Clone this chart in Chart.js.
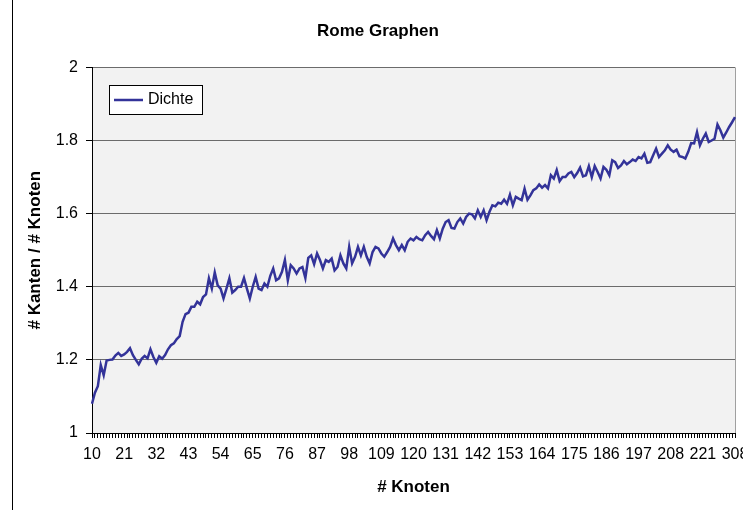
<!DOCTYPE html>
<html>
<head>
<meta charset="utf-8">
<title>Rome Graphen</title>
<script src="https://cdn.jsdelivr.net/npm/chart.js@4"></script>
<style>
  html, body { margin:0; padding:0; background:#fff; }
  canvas { display:block; }
</style>
</head>
<body>
<canvas id="rome-chart" width="743" height="510"></canvas>
<script>
/* ----------------------------------------------------------
   Daten: Knotenzahl (x) und Dichte = # Kanten / # Knoten (y)
   ---------------------------------------------------------- */
const knoten = [
   10, 11, 12, 13, 14, 15, 16, 17, 18, 19, 20, 21, 22, 23, 24, 25, 26, 27, 28, 29,
   30, 31, 32, 33, 34, 35, 36, 37, 38, 39, 40, 41, 42, 43, 44, 45, 46, 47, 48, 49,
   50, 51, 52, 53, 54, 55, 56, 57, 58, 59, 60, 61, 62, 63, 64, 65, 66, 67, 68, 69,
   70, 71, 72, 73, 74, 75, 76, 77, 78, 79, 80, 81, 82, 83, 84, 85, 86, 87, 88, 89,
   90, 91, 92, 93, 94, 95, 96, 97, 98, 99,100,101,102,103,104,105,106,107,108,109,
  110,111,112,113,114,115,116,117,118,119,120,121,122,123,124,125,126,127,128,129,
  130,131,132,133,134,135,136,137,138,139,140,141,142,143,144,145,146,147,148,149,
  150,151,152,153,154,155,156,157,158,159,160,161,162,163,164,165,166,167,168,169,
  170,171,172,173,174,175,176,177,178,179,180,181,182,183,184,185,186,187,188,189,
  190,191,192,193,194,195,196,197,198,199,200,201,202,203,204,205,206,207,208,
  209,210,211,212,213,214,215,216,218,219,221,222,224,226,229,232,236,241,248,257,
  270,308,
];

const dichte = [
  1.080, 1.110, 1.128, 1.186, 1.158, 1.198, 1.200, 1.201, 1.212, 1.219,
  1.211, 1.215, 1.222, 1.232, 1.213, 1.200, 1.188, 1.203, 1.211, 1.204,
  1.229, 1.208, 1.192, 1.210, 1.203, 1.213, 1.229, 1.240, 1.245, 1.257,
  1.265, 1.304, 1.325, 1.329, 1.345, 1.345, 1.359, 1.352, 1.372, 1.379,
  1.423, 1.395, 1.439, 1.404, 1.395, 1.368, 1.395, 1.423, 1.384, 1.391,
  1.400, 1.400, 1.424, 1.395, 1.368, 1.400, 1.427, 1.395, 1.391, 1.409,
  1.400, 1.430, 1.450, 1.418, 1.423, 1.441, 1.473, 1.418, 1.459, 1.450,
  1.436, 1.450, 1.454, 1.424, 1.479, 1.486, 1.462, 1.491, 1.473, 1.450,
  1.473, 1.468, 1.477, 1.445, 1.454, 1.486, 1.464, 1.450, 1.509, 1.464,
  1.482, 1.509, 1.486, 1.509, 1.482, 1.464, 1.495, 1.509, 1.505, 1.491,
  1.482, 1.495, 1.509, 1.532, 1.514, 1.500, 1.514, 1.500, 1.523, 1.532,
  1.527, 1.536, 1.530, 1.527, 1.541, 1.550, 1.539, 1.530, 1.555, 1.532,
  1.559, 1.577, 1.582, 1.561, 1.559, 1.577, 1.587, 1.573, 1.591, 1.600,
  1.598, 1.587, 1.609, 1.591, 1.609, 1.582, 1.605, 1.623, 1.620, 1.630,
  1.627, 1.638, 1.627, 1.652, 1.623, 1.646, 1.641, 1.637, 1.668, 1.638,
  1.650, 1.664, 1.669, 1.680, 1.671, 1.678, 1.669, 1.705, 1.696, 1.719,
  1.689, 1.700, 1.700, 1.710, 1.714, 1.700, 1.711, 1.726, 1.702, 1.705,
  1.730, 1.700, 1.730, 1.714, 1.696, 1.728, 1.720, 1.705, 1.746, 1.741,
  1.725, 1.732, 1.744, 1.735, 1.741, 1.748, 1.744, 1.755, 1.751, 1.764,
  1.739, 1.741, 1.760, 1.778, 1.755, 1.764, 1.773, 1.787, 1.775, 1.769,
  1.775, 1.757, 1.755, 1.751, 1.769, 1.793, 1.792, 1.823, 1.787, 1.805,
  1.819, 1.796, 1.800, 1.805, 1.844, 1.828, 1.808, 1.822, 1.837, 1.850,
  1.864,
];

const yTicks = [1, 1.2, 1.4, 1.6, 1.8, 2];
const LABEL_EVERY = 11;   // jede 11. Kategorie beschriften

const FONT = "'Liberation Sans', Arial, sans-serif";
Chart.defaults.font.family = FONT;
Chart.defaults.color = '#000';

/* ----------------------------------------------------------
   Hintergrund, Rahmen, Legendenkasten
   ---------------------------------------------------------- */
const chartFrame = {
  id: 'chartFrame',
  beforeDraw(chart) {
    const { ctx, chartArea: a } = chart;
    ctx.save();
    ctx.fillStyle = '#fff';
    ctx.fillRect(0, 0, chart.width, chart.height);
    ctx.fillStyle = '#f2f2f2';
    ctx.fillRect(a.left, a.top, a.right - a.left, a.bottom - a.top);
    ctx.strokeStyle = '#000';
    ctx.lineWidth = 1;
    ctx.beginPath(); ctx.moveTo(12.5, 0); ctx.lineTo(12.5, chart.height); ctx.stroke();
    ctx.strokeStyle = '#a0a0a0';
    ctx.beginPath(); ctx.moveTo(a.right + 0.5, a.top); ctx.lineTo(a.right + 0.5, a.bottom); ctx.stroke();
    ctx.restore();
  },
};

const boxLegend = {
  id: 'boxLegend',
  afterDraw(chart) {
    const { ctx, chartArea: a } = chart;
    const ds = chart.data.datasets[0];
    const x = Math.round(a.left) + 17, y = Math.round(a.top) + 18, w = 93, h = 29;
    ctx.save();
    ctx.fillStyle = '#fff';
    ctx.fillRect(x, y, w, h);
    ctx.strokeStyle = '#000';
    ctx.lineWidth = 1;
    ctx.strokeRect(x + 0.5, y + 0.5, w, h);
    const my = y + h / 2 + 0.5;
    ctx.strokeStyle = ds.borderColor;
    ctx.lineWidth = 2.5;
    ctx.beginPath(); ctx.moveTo(x + 5, my); ctx.lineTo(x + 34, my); ctx.stroke();
    ctx.fillStyle = '#000';
    ctx.font = '16px ' + FONT;
    ctx.textBaseline = 'middle';
    ctx.fillText(ds.label, x + 39, my);
    ctx.restore();
  },
};

/* ----------------------------------------------------------
   Liniendiagramm
   ---------------------------------------------------------- */
new Chart(document.getElementById('rome-chart'), {
  type: 'line',
  data: {
    labels: knoten,
    datasets: [{
      label: 'Dichte', data: dichte,
      borderColor: '#333399', borderWidth: 2.5,
      pointRadius: 0, tension: 0, fill: false,
    }],
  },
  options: {
    responsive: false, animation: false,
    layout: { padding: { left: 13, right: 0, top: 0, bottom: 0 } },
    plugins: {
      legend: { display: false },
      tooltip: { enabled: false },
      title: {
        display: true, text: 'Rome Graphen', color: '#000',
        font: { size: 17, weight: 'bold' }, padding: { top: 21, bottom: 26 },
      },
    },
    scales: {
      x: {
        offset: false,
        grid: { drawOnChartArea: false, tickLength: 5, tickColor: '#000' },
        border: { color: '#000' },
        ticks: {
          autoSkip: false, maxRotation: 0, padding: 7,
          font: { size: 16 },
          callback: (v, i) => (i % LABEL_EVERY === 0 ? knoten[i] : ''),
        },
        title: { display: true, text: '# Knoten', font: { size: 17, weight: 'bold' }, padding: { top: 0, bottom: 12 } },
        afterFit: s => { s.height = 77; s.paddingRight = 8; },
      },
      y: {
        min: 1, max: 2,
        grid: { color: '#6b6b6b', tickLength: 6, tickColor: '#000' },
        border: { color: '#000' },
        ticks: {
          padding: 8, font: { size: 16 },
          callback: v => String(Math.round(v * 10) / 10),
        },
        afterBuildTicks: s => { s.ticks = yTicks.map(v => ({ value: v })); },
        title: { display: true, text: '# Kanten / # Knoten', font: { size: 17, weight: 'bold' }, padding: { top: 12, bottom: 0 } },
        afterFit: s => { s.width = 79; },
      },
    },
  },
  plugins: [chartFrame, boxLegend],
});
</script>
</body>
</html>
